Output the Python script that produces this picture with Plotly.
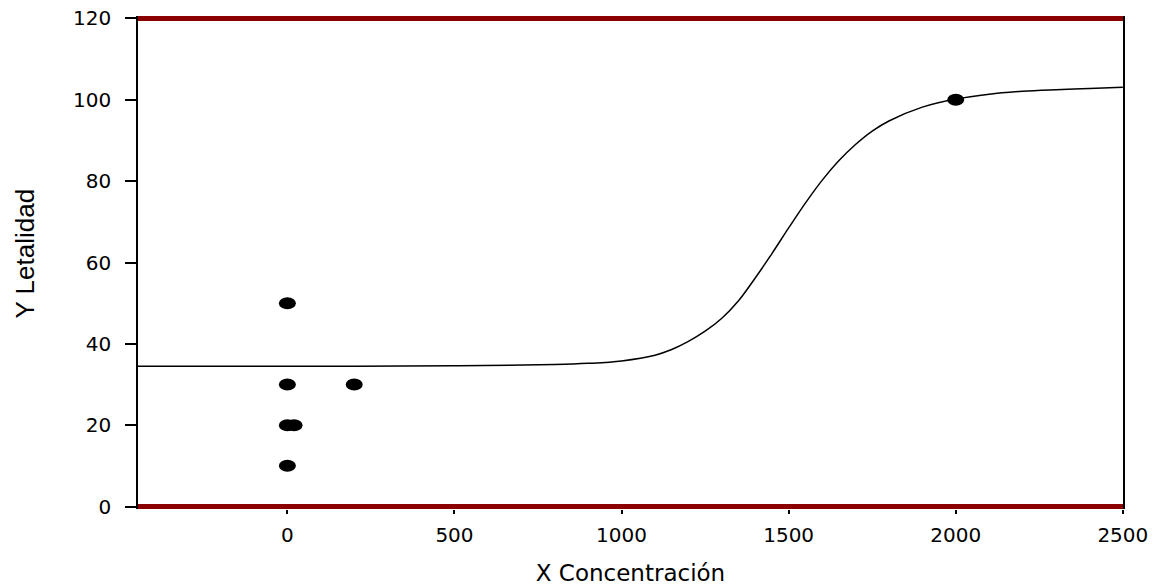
import plotly.graph_objects as go

# observed points
conc = [0, 0, 20, 0, 200, 0, 2000]
letalidad = [10, 20, 20, 30, 30, 50, 100]

# fitted sigmoid curve
curve_x = [-447, 0, 500, 800, 900, 1000, 1100, 1150, 1200, 1250, 1300, 1350,
           1400, 1450, 1500, 1550, 1600, 1650, 1700, 1750, 1800, 1900, 2000,
           2100, 2200, 2300, 2400, 2500]
curve_y = [34.5, 34.5, 34.6, 34.9, 35.2, 35.8, 37.2, 38.6, 40.6, 43.1, 46.3, 50.6,
           56.2, 62.2, 68.5, 74.6, 80.2, 85.0, 89.0, 92.3, 94.8, 98.2, 100.2,
           101.4, 102.1, 102.5, 102.8, 103.1]

x_ticks = [0, 500, 1000, 1500, 2000, 2500]
y_ticks = [0, 20, 40, 60, 80, 100, 120]
frame_y = [0, 120]   # the two dark red rules

fig = go.Figure()
fig.add_trace(go.Scatter(x=curve_x, y=curve_y, mode="lines",
                         line=dict(color="black", width=1.5, shape="spline"),
                         showlegend=False))
fig.add_trace(go.Scatter(x=conc, y=letalidad, mode="markers",
                         marker=dict(color="rgba(0,0,0,0)", size=12),
                         showlegend=False))

for yv in frame_y:
    fig.add_shape(type="line", xref="paper", yref="y", x0=0, x1=1, y0=yv, y1=yv,
                  line=dict(color="#8b0000", width=5), layer="above")

# elliptical point markers, anchored on the data values
for xv, yv in zip(conc, letalidad):
    fig.add_shape(type="circle", xref="x", yref="y",
                  xsizemode="pixel", ysizemode="pixel",
                  xanchor=xv, yanchor=yv,
                  x0=-8.5, x1=8.5, y0=-6, y1=6,
                  fillcolor="black", line=dict(width=0), layer="above")

wide = "DejaVu Sans, Verdana, sans-serif"
narrow = "Liberation Sans, Arial, sans-serif"

# y title sits further left than plotly's standoff allows, so use an annotation
fig.add_annotation(text="Y Letalidad", xref="paper", yref="paper", x=0, y=0.5,
                   xanchor="center", yanchor="middle", textangle=-90,
                   xshift=-114, yshift=9, showarrow=False,
                   font=dict(family=narrow, size=26, color="black"))

fig.update_layout(
    template="none",
    width=1159, height=586,
    margin=dict(l=138, r=36, t=15.5, b=76.5, autoexpand=False),
    plot_bgcolor="white", paper_bgcolor="white",
    font=dict(family=wide, size=20, color="black"),
    xaxis=dict(range=[-447, 2500.5], tickvals=x_ticks, automargin=False,
               showgrid=False, zeroline=False, showline=False,
               ticks="outside", ticklen=4, tickwidth=2, tickcolor="black",
               ticklabelstandoff=4, ticklabeloverflow="allow",
               tickfont=dict(family=wide, size=20),
               title=dict(text="X Concentración",
                          font=dict(family=wide, size=23), standoff=20)),
    yaxis=dict(range=[-0.613, 120.613], tickvals=y_ticks, automargin=False,
               showgrid=False, zeroline=False,
               showline=True, linecolor="black", linewidth=1.5, mirror=True,
               ticks="outside", ticklen=11, tickwidth=1.5, tickcolor="black",
               ticklabelstandoff=10, ticklabeloverflow="allow",
               tickfont=dict(family=wide, size=20)),
)

# drop the default 8px page margin so the figure fills the window
fig.write_html("out.html", config={"displayModeBar": False},
               post_script="document.body.style.margin = '0';")
